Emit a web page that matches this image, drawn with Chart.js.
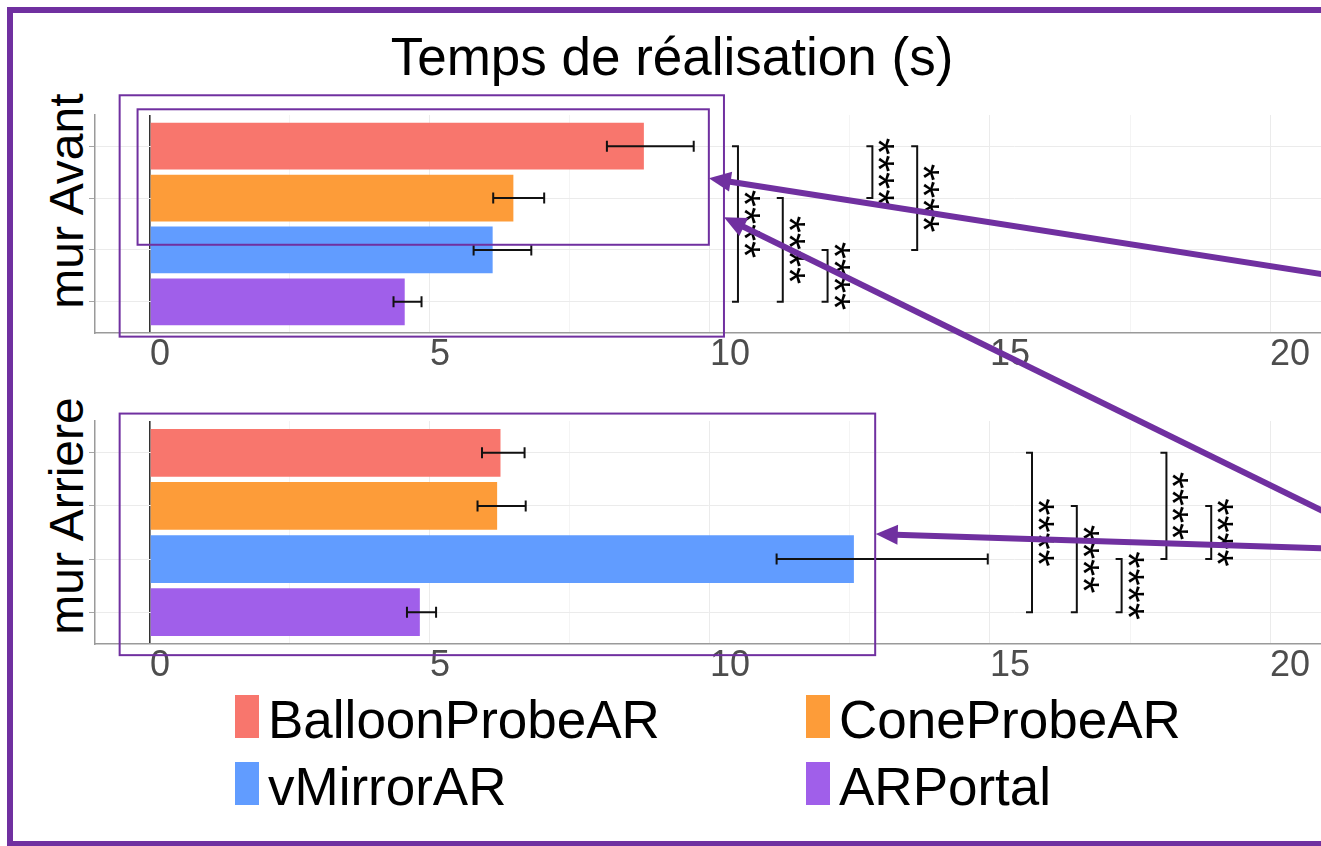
<!DOCTYPE html>
<html lang="fr">
<head>
<meta charset="utf-8">
<title>Temps de réalisation (s)</title>
<script src="https://cdn.jsdelivr.net/npm/chart.js@4.4.1/dist/chart.umd.min.js"></script>
<style>
  html, body { margin: 0; padding: 0; background: #fff; }
  body { position: relative; width: 1321px; height: 846px; overflow: hidden;
         font-family: "Liberation Sans", Arial, Helvetica, sans-serif; color: #000; }
  canvas { position: absolute; left: 0; }
  #avant { top: 100px; }
  #arriere { top: 406px; }
  #calque { top: 0; z-index: 5; pointer-events: none; }
  .titre { position: absolute; left: 272px; width: 800px; top: 30px; text-align: center;
           font-size: 53px; line-height: 53px; white-space: nowrap; }
  .bande { position: absolute; width: 320px; height: 48px; font-size: 48px; line-height: 48px;
           text-align: center; white-space: nowrap; transform: rotate(-90deg); }
  .legende { position: absolute; font-size: 53px; line-height: 53px; white-space: nowrap; padding-left: 33px; }
  .legende span { position: absolute; left: 0; top: 2px; width: 24px; height: 43px; }
</style>
</head>
<body>
<div class="titre">Temps de réalisation (s)</div>
<div class="bande" style="left:-93px; top:177px;">mur Avant</div>
<div class="bande" style="left:-93px; top:492px;">mur Arriere</div>

<canvas id="avant" width="1321" height="280"></canvas>
<canvas id="arriere" width="1321" height="285"></canvas>
<canvas id="calque" width="1321" height="846"></canvas>

<div id="legende"></div>

<script>
// ---- données ----
const groupes = ['BalloonProbeAR', 'ConeProbeAR', 'vMirrorAR', 'ARPortal'];
const couleurs = ['#F8766D', '#FD9C39', '#619CFF', '#A05FEA'];

const avantMoyenne = [8.82, 6.49, 6.12, 4.55];
const avantBas = [8.16, 6.13, 5.78, 4.35];
const avantHaut = [9.71, 7.04, 6.81, 4.85];

const arriereMoyenne = [6.26, 6.20, 12.57, 4.82];
const arriereBas = [5.93, 5.85, 11.19, 4.59];
const arriereHaut = [6.69, 6.71, 14.96, 5.11];

const ticksX = [0, 5, 10, 15, 20];
const ticksXMineurs = [2.5, 7.5, 12.5, 17.5];

// comparaisons : [groupe a, groupe b, position x du crochet]
const avantSignif = [[0, 3, 10.5], [1, 3, 11.3], [2, 3, 12.1], [0, 1, 12.9], [0, 2, 13.7]];
const arriereSignif = [[0, 3, 15.75], [1, 3, 16.55], [2, 3, 17.35], [0, 2, 18.15], [1, 2, 18.95]];
const etoiles = '****';

const police = '"Liberation Sans", Arial, Helvetica, sans-serif';
const violet = '#7030A0';

// annotations violettes, en unités du graphique (valeur x, rang du groupe)
const cadres = [
    { panneau: 'avant', x0: -0.54, x1: 10.25, y0: -0.98, y1: 3.67 },
    { panneau: 'avant', x0: -0.22, x1: 9.98, y0: -0.71, y1: 1.90 },
    { panneau: 'arriere', x0: -0.54, x1: 12.95, y0: -0.74, y1: 3.81 }
];
const fleches = [
    { de: ['avant', 21.3, 2.53], vers: ['avant', 9.98, 0.62] },
    { de: ['arriere', 21.3, 1.28], vers: ['avant', 10.25, 1.37] },
    { de: ['arriere', 21.3, 1.81], vers: ['arriere', 12.96, 1.53] }
];

// ---- barres d'erreur + crochets de significativité ----
const barresErreur = {
    id: 'barresErreur',
    afterDatasetsDraw(chart, args, opts) {
        const { ctx } = chart;
        const x = chart.scales.x, y = chart.scales.y;
        ctx.save();
        ctx.strokeStyle = '#111';
        ctx.lineWidth = 2;
        opts.bas.forEach((b, i) => {
            const yy = y.getPixelForValue(i);
            const x0 = x.getPixelForValue(b);
            const x1 = x.getPixelForValue(opts.haut[i]);
            ctx.beginPath();
            ctx.moveTo(x0, yy); ctx.lineTo(x1, yy);
            ctx.moveTo(x0, yy - 5.5); ctx.lineTo(x0, yy + 5.5);
            ctx.moveTo(x1, yy - 5.5); ctx.lineTo(x1, yy + 5.5);
            ctx.stroke();
        });

        ctx.fillStyle = '#000';
        ctx.font = '44px ' + police;
        ctx.textAlign = 'center';
        ctx.textBaseline = 'alphabetic';
        opts.signif.forEach(([a, b, pos]) => {
            const xx = x.getPixelForValue(pos);
            const ya = y.getPixelForValue(a);
            const yb = y.getPixelForValue(b);
            ctx.beginPath();
            ctx.moveTo(xx - 6, ya); ctx.lineTo(xx, ya); ctx.lineTo(xx, yb); ctx.lineTo(xx - 6, yb);
            ctx.stroke();
            ctx.save();
            ctx.translate(xx - 9, (ya + yb) / 2);
            ctx.rotate(Math.PI / 2);
            ctx.fillText(etoiles, 0, 0);
            ctx.restore();
        });
        ctx.restore();
    }
};

function config(moyenne, bas, haut, signif) {
    return {
        type: 'bar',
        data: {
            labels: groupes,
            datasets: [{
                data: moyenne.map((v, i) => ({ x: v, y: i })),
                backgroundColor: couleurs,
                categoryPercentage: 1,
                barPercentage: 0.9
            }]
        },
        options: {
            responsive: false,
            animation: false,
            indexAxis: 'y',
            layout: { padding: { top: 15, left: 0, right: 0, bottom: 0 } },
            plugins: {
                legend: { display: false },
                tooltip: { enabled: false },
                barresErreur: { bas: bas, haut: haut, signif: signif }
            },
            scales: {
                x: {
                    type: 'linear',
                    min: -0.98,
                    max: 20.91,
                    afterBuildTicks: s => {
                        s.ticks = ticksX.concat(ticksXMineurs).sort((a, b) => a - b).map(v => ({ value: v }));
                    },
                    afterFit: s => { s.height = 47; },
                    grid: {
                        drawTicks: false,
                        color: c => c.tick && c.tick.value === 0 ? '#333333'
                            : (c.tick && ticksX.includes(c.tick.value) ? '#EBEBEB' : '#F4F4F4'),
                        lineWidth: c => c.tick && c.tick.value === 0 ? 1.6 : 1
                    },
                    border: { color: '#9A9A9A', width: 1.5 },
                    ticks: {
                        autoSkip: false,
                        maxRotation: 0,
                        align: 'start',
                        padding: 0,
                        color: '#4D4D4D',
                        font: { size: 36, family: police },
                        callback: v => ticksX.includes(v) ? String(v) : ''
                    }
                },
                y: {
                    type: 'linear',
                    min: -0.6,
                    max: 3.6,
                    reverse: true,
                    offset: false,
                    afterBuildTicks: s => { s.ticks = groupes.map((g, i) => ({ value: i })); },
                    afterFit: s => { s.width = 95; },
                    grid: { offset: false, color: '#EBEBEB', tickColor: '#A6A6A6', tickLength: 6 },
                    border: { color: '#9A9A9A', width: 1.5 },
                    ticks: { display: false }
                }
            }
        },
        plugins: [barresErreur]
    };
}

const graphes = {
    avant: new Chart(document.getElementById('avant'), config(avantMoyenne, avantBas, avantHaut, avantSignif)),
    arriere: new Chart(document.getElementById('arriere'), config(arriereMoyenne, arriereBas, arriereHaut, arriereSignif))
};

// ---- légende ----
const legende = document.getElementById('legende');
const posLegende = [[235, 693], [806, 693], [235, 760], [806, 760]];
groupes.forEach((g, i) => {
    const d = document.createElement('div');
    d.className = 'legende';
    d.style.left = posLegende[i][0] + 'px';
    d.style.top = posLegende[i][1] + 'px';
    d.innerHTML = '<span style="background:' + couleurs[i] + '"></span>' + g;
    legende.appendChild(d);
});

// ---- calque d'annotations ----
function point(p, xv, iv) {
    const ch = graphes[p];
    return [ch.scales.x.getPixelForValue(xv) + ch.canvas.offsetLeft,
            ch.scales.y.getPixelForValue(iv) + ch.canvas.offsetTop];
}

const cal = document.getElementById('calque').getContext('2d');
cal.strokeStyle = violet;
cal.fillStyle = violet;

cal.lineWidth = 2;
cadres.forEach(c => {
    const [xa, ya] = point(c.panneau, c.x0, c.y0);
    const [xb, yb] = point(c.panneau, c.x1, c.y1);
    cal.strokeRect(xa, ya, xb - xa, yb - ya);
});

cal.lineWidth = 6;
cal.lineCap = 'butt';
fleches.forEach(f => {
    const [xa, ya] = point(...f.de);
    const [xb, yb] = point(...f.vers);
    const ang = Math.atan2(yb - ya, xb - xa);
    const L = 22, W = 10;
    const bx = xb - L * Math.cos(ang), by = yb - L * Math.sin(ang);
    cal.beginPath();
    cal.moveTo(xa, ya);
    cal.lineTo(bx + 2 * Math.cos(ang), by + 2 * Math.sin(ang));
    cal.stroke();
    cal.beginPath();
    cal.moveTo(xb, yb);
    cal.lineTo(bx - W * Math.sin(ang), by + W * Math.cos(ang));
    cal.lineTo(bx + W * Math.sin(ang), by - W * Math.cos(ang));
    cal.closePath();
    cal.fill();
});

// cadre extérieur
cal.lineWidth = 6;
cal.strokeRect(10, 10, 1340, 834);
</script>
</body>
</html>
